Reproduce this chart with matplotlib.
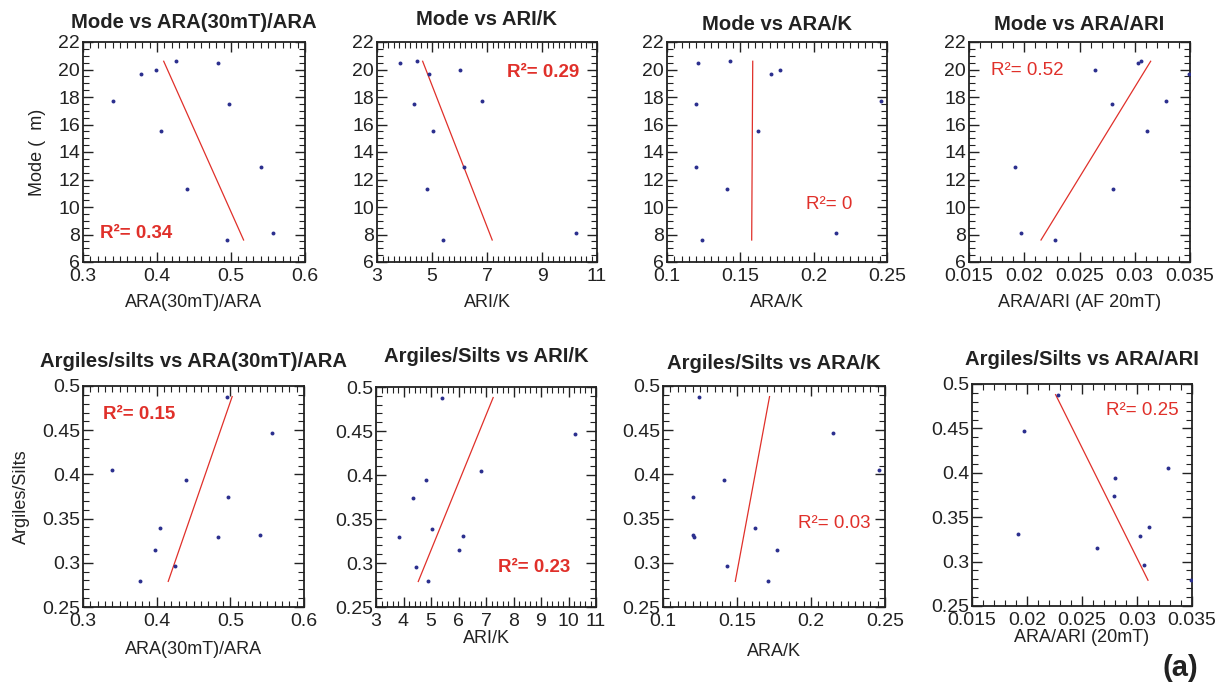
import numpy as np
import matplotlib
matplotlib.use("Agg")
import matplotlib.pyplot as plt
from matplotlib.ticker import MultipleLocator, FormatStrFormatter

plt.rcParams['font.family'] = ['Liberation Sans', 'DejaVu Sans']

# 11 samples
mode = [20.6, 20.5, 20.0, 19.7, 17.7, 17.5, 15.5, 12.9, 11.3, 8.1, 7.6]
argiles_silts = [0.296, 0.329, 0.315, 0.279, 0.405, 0.374, 0.339, 0.331, 0.394, 0.447, 0.488]
ara30_ara = [0.425, 0.483, 0.398, 0.378, 0.340, 0.497, 0.405, 0.540, 0.440, 0.557, 0.495]
ari_k = [4.45, 3.85, 6.0, 4.9, 6.8, 4.35, 5.05, 6.15, 4.8, 10.25, 5.4]
ara_k = [0.143, 0.121, 0.177, 0.171, 0.246, 0.120, 0.162, 0.120, 0.141, 0.215, 0.124]
ara_ari = [0.0306, 0.0303, 0.0264, 0.0349, 0.0328, 0.0279, 0.0311, 0.0192, 0.028, 0.0197, 0.0228]

r2_mode = ["0.34", "0.29", "0", "0.52"]
r2_argiles = ["0.15", "0.23", "0.03", "0.25"]

RED = '#e0302a'
BLUE = '#2b2f8e'
INK = '#222222'
W, H = 1224, 686

fig = plt.figure(figsize=(12.24, 6.86), dpi=100)


def px_axes(x0, x1, y0, y1):
    return fig.add_axes([x0 / W, 1 - y1 / H, (x1 - x0) / W, (y1 - y0) / H])


def panel(rect, x, y, title, xlabel, xlim, xmaj, xmin, ylim, ymaj, ymin,
          r2, r2pos, r2bold, ha='left', ylabel=None, xlabpad=7, titlepad=10,
          xoff=0.0):
    ax = px_axes(*rect)
    ax.scatter(x, y, s=8, color=BLUE, zorder=3, linewidths=0)
    # regression of x on y, drawn over the y range
    b, a = np.polyfit(y, x, 1)
    yy = np.array([min(y), max(y)])
    ax.plot(b * yy + a, yy, color=RED, lw=0.9)
    ax.set_xlim(*xlim)
    ax.set_ylim(*ylim)
    ax.xaxis.set_major_locator(MultipleLocator(xmaj, offset=xoff))
    ax.xaxis.set_minor_locator(MultipleLocator(xmin))
    ax.yaxis.set_major_locator(MultipleLocator(ymaj))
    ax.yaxis.set_minor_locator(MultipleLocator(ymin))
    ax.xaxis.set_major_formatter(FormatStrFormatter('%g'))
    ax.yaxis.set_major_formatter(FormatStrFormatter('%g'))
    ax.tick_params(which='both', direction='in', top=True, right=True,
                   labelsize=14, colors=INK)
    ax.tick_params(axis='x', pad=4)
    ax.tick_params(axis='y', pad=2)
    ax.tick_params(which='major', length=7, width=1)
    ax.tick_params(which='minor', length=4, width=0.8)
    for sp in ax.spines.values():
        sp.set_linewidth(1.3)
        sp.set_color(INK)
    ax.set_title(title, fontsize=14.6, fontweight='bold', pad=titlepad, color=INK)
    ax.set_xlabel(xlabel, fontsize=13, labelpad=xlabpad, color=INK)
    if ylabel:
        ax.set_ylabel(ylabel, fontsize=13, labelpad=9, color=INK)
    ax.text(r2pos[0], r2pos[1], "R\u00b2= " + r2, transform=ax.transAxes,
            color=RED, fontsize=13.5, fontweight='bold' if r2bold else 'normal',
            ha=ha, va='center')
    return ax


ylim_m = (6, 22)
ylim_a = (0.25, 0.5)

panel((83, 305, 42, 262), ara30_ara, mode, "Mode vs ARA(30mT)/ARA", "ARA(30mT)/ARA",
      (0.3, 0.6), 0.1, 0.01, ylim_m, 2, 0.5, r2_mode[0], (0.075, 0.13), True,
      ylabel="Mode (  m)")
panel((377, 597, 42, 262), ari_k, mode, "Mode vs ARI/K", "ARI/K",
      (3, 11), 2, 0.2, ylim_m, 2, 0.5, r2_mode[1], (0.92, 0.86), True, ha='right',
      titlepad=12, xoff=1)
panel((667, 887, 42, 262), ara_k, mode, "Mode vs ARA/K", "ARA/K",
      (0.1, 0.25), 0.05, 0.005, ylim_m, 2, 0.5, r2_mode[2], (0.63, 0.26), False,
      titlepad=9)
panel((969, 1190, 42, 262), ara_ari, mode, "Mode vs ARA/ARI", "ARA/ARI (AF 20mT)",
      (0.015, 0.035), 0.005, 0.001, ylim_m, 2, 0.5, r2_mode[3], (0.1, 0.87), False,
      titlepad=9)

panel((83, 304, 386, 607), ara30_ara, argiles_silts, "Argiles/silts vs ARA(30mT)/ARA",
      "ARA(30mT)/ARA", (0.3, 0.6), 0.1, 0.01, ylim_a, 0.05, 0.01, r2_argiles[0],
      (0.09, 0.87), True, ylabel="Argiles/Silts", titlepad=13.5, xlabpad=8)
panel((376, 596, 387, 607), ari_k, argiles_silts, "Argiles/Silts vs ARI/K", "ARI/K",
      (3, 11), 1, 0.2, ylim_a, 0.05, 0.01, r2_argiles[1], (0.555, 0.18), True,
      xlabpad=0, titlepad=18)
panel((663, 885, 386, 607), ara_k, argiles_silts, "Argiles/Silts vs ARA/K", "ARA/K",
      (0.1, 0.25), 0.05, 0.005, ylim_a, 0.05, 0.01, r2_argiles[2], (0.61, 0.38), False,
      xlabpad=10, titlepad=12)
panel((972, 1192, 384, 606), ara_ari, argiles_silts, "Argiles/Silts vs ARA/ARI",
      "ARA/ARI (20mT)", (0.015, 0.035), 0.005, 0.001, ylim_a, 0.05, 0.01, r2_argiles[3],
      (0.61, 0.88), False, xlabpad=0, titlepad=13.5)

fig.text(1180 / W, 1 - 668 / H, "(a)", fontsize=21, fontweight='bold',
         ha='center', va='center', color=INK)

fig.savefig("out.png", dpi=100)
